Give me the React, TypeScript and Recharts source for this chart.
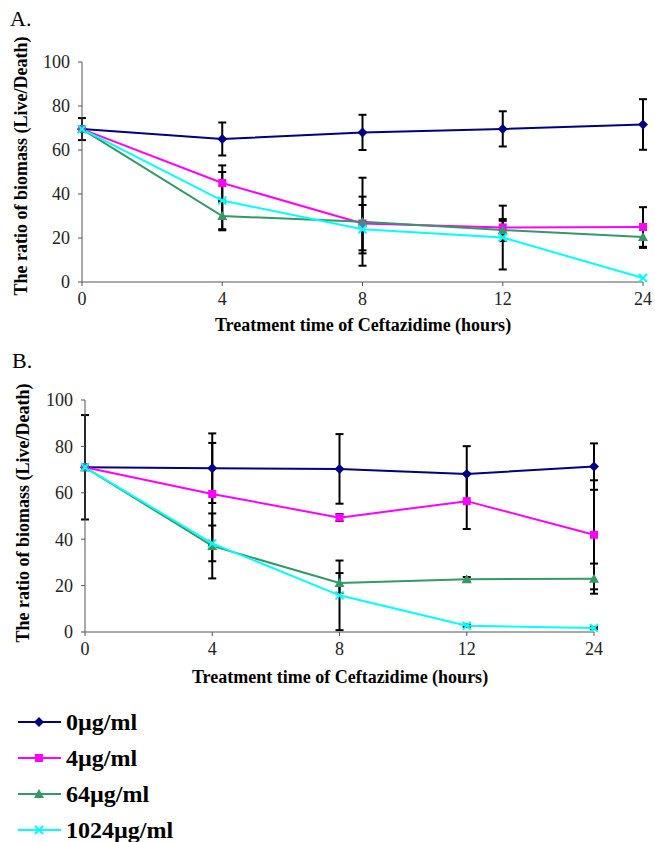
import React from "react";
import { LineChart, Line, XAxis, YAxis, ErrorBar } from "recharts";

const HOURS = ["0", "4", "8", "12", "24"];
const Y_TICKS = [0, 20, 40, 60, 80, 100];

const SERIES = [
  { name: "0µg/ml", key: "c0", color: "#000080", shape: "diamond" },
  { name: "4µg/ml", key: "c4", color: "#FF00FF", shape: "square" },
  { name: "64µg/ml", key: "c64", color: "#339966", shape: "triangle" },
  { name: "1024µg/ml", key: "c1024", color: "#00FFFF", shape: "cross" },
];

// panel A
const a0 = [69.5, 65, 68, 69.6, 71.6];
const a0Err = [5, 7.5, 8, 8, 11.5];
const a4 = [69.5, 45, 26.6, 24.8, 25];
const a4Err = [0, 8, 12.2, 3, 9];
const a64 = [69.5, 30, 27.4, 23.6, 20.5];
const a64Err = [0, 6.5, 20, 5, 5];
const a1024 = [69.5, 37, 24, 20.2, 1.8];
const a1024Err = [0, 13, 11, 14.5, 0];

// panel B
const b0 = [71, 70.6, 70.3, 68.1, 71.3];
const b0Err = [22.5, 15, 15, 12, 10];
const b4 = [71, 59.5, 49.3, 56.4, 41.9];
const b4Err = [0, 22, 1.5, 12, 23.5];
const b64 = [71, 37.1, 21.1, 22.7, 23];
const b64Err = [0, 14, 4.3, 1, 6.5];
const b1024 = [71, 38.2, 15.8, 2.7, 1.7];
const b1024Err = [0, 7.7, 15, 0.5, 0.5];

function buildRows(vals: number[][], errs: number[][]) {
  return HOURS.map((t, i) => {
    const row: any = { t };
    SERIES.forEach((s, j) => {
      row[s.key] = vals[j][i];
      row[s.key + "Err"] = errs[j][i];
    });
    return row;
  });
}

const dataA = buildRows([a0, a4, a64, a1024], [a0Err, a4Err, a64Err, a1024Err]);
const dataB = buildRows([b0, b4, b64, b1024], [b0Err, b4Err, b64Err, b1024Err]);

const FONT = '"Liberation Serif", "Times New Roman", serif';

function Marker({ cx, cy, shape, color }: any) {
  if (cx == null || cy == null) return null;
  if (shape === "diamond") {
    const r = 5;
    return <polygon points={`${cx},${cy - r} ${cx + r},${cy} ${cx},${cy + r} ${cx - r},${cy}`} fill={color} />;
  }
  if (shape === "square") {
    return <rect x={cx - 4} y={cy - 4} width={8} height={8} fill={color} />;
  }
  if (shape === "triangle") {
    return <polygon points={`${cx},${cy - 5} ${cx + 5},${cy + 4} ${cx - 5},${cy + 4}`} fill={color} />;
  }
  return (
    <g stroke={color} strokeWidth={2}>
      <line x1={cx - 4} y1={cy - 4} x2={cx + 4} y2={cy + 4} />
      <line x1={cx - 4} y1={cy + 4} x2={cx + 4} y2={cy - 4} />
    </g>
  );
}

function Panel({ data, width, height, margin }: any) {
  return (
    <LineChart width={width} height={height} data={data} margin={margin}>
      <XAxis
        dataKey="t"
        type="category"
        tick={{ fontSize: 18, fill: "#222", fontFamily: FONT }}
        tickSize={4}
        tickMargin={6}
        stroke="#555"
        height={30}
      />
      <YAxis
        domain={[0, 100]}
        ticks={Y_TICKS}
        allowDataOverflow
        tick={{ fontSize: 18, fill: "#222", fontFamily: FONT }}
        tickSize={4}
        tickMargin={8}
        stroke="#555"
        width={60}
      />
      {SERIES.map((s) => (
        <Line
          key={s.key}
          dataKey={s.key}
          stroke={s.color}
          strokeWidth={2}
          isAnimationActive={false}
          dot={(p: any) => <Marker key={s.key + p.index} cx={p.cx} cy={p.cy} shape={s.shape} color={s.color} />}
          activeDot={false}
        >
          <ErrorBar dataKey={s.key + "Err"} width={4} stroke="#000" strokeWidth={2} direction="y" />
        </Line>
      ))}
    </LineChart>
  );
}

const textStyle: React.CSSProperties = {
  position: "absolute",
  fontFamily: FONT,
  color: "#000",
  whiteSpace: "nowrap",
};

function YTitle({ top, left, size }: any) {
  return (
    <div
      style={{
        ...textStyle,
        fontWeight: "bold",
        fontSize: size,
        left,
        top,
        transform: "translate(-50%, -50%) rotate(-90deg)",
      }}
    >
      The ratio of biomass (Live/Death)
    </div>
  );
}

function XTitle({ top, left }: any) {
  return (
    <div style={{ ...textStyle, fontWeight: "bold", fontSize: 18, left, top, transform: "translate(-50%, -50%)" }}>
      Treatment time of Ceftazidime (hours)
    </div>
  );
}

function Legend() {
  return (
    <div style={{ position: "absolute", left: 0, top: 704 }}>
      {SERIES.map((s) => (
        <div key={s.key} style={{ display: "flex", alignItems: "center", height: 36 }}>
          <svg width={66} height={36}>
            <line x1={18} y1={18} x2={61} y2={18} stroke={s.color} strokeWidth={2} />
            <Marker cx={39} cy={18} shape={s.shape} color={s.color} />
          </svg>
          <span style={{ fontFamily: FONT, fontWeight: "bold", fontSize: 24 }}>{s.name}</span>
        </div>
      ))}
    </div>
  );
}

export default function App() {
  return (
    <div style={{ position: "absolute", left: 0, top: 0, width: 655, height: 842, background: "#fff" }}>
      <div style={{ ...textStyle, left: 10, top: 6, fontSize: 22 }}>A.</div>
      <div style={{ position: "absolute", left: 0, top: 0 }}>
        <Panel data={dataA} width={655} height={320} margin={{ top: 62, right: 12, bottom: 8, left: 22 }} />
      </div>
      <YTitle left={21} top={166} size={18} />
      <XTitle left={363} top={325} />

      <div style={{ ...textStyle, left: 12, top: 348, fontSize: 22 }}>B.</div>
      <div style={{ position: "absolute", left: 0, top: 340 }}>
        <Panel data={dataB} width={655} height={330} margin={{ top: 60, right: 61, bottom: 8, left: 25 }} />
      </div>
      <YTitle left={23} top={513} size={18} />
      <XTitle left={340} top={677} />

      <Legend />
    </div>
  );
}
